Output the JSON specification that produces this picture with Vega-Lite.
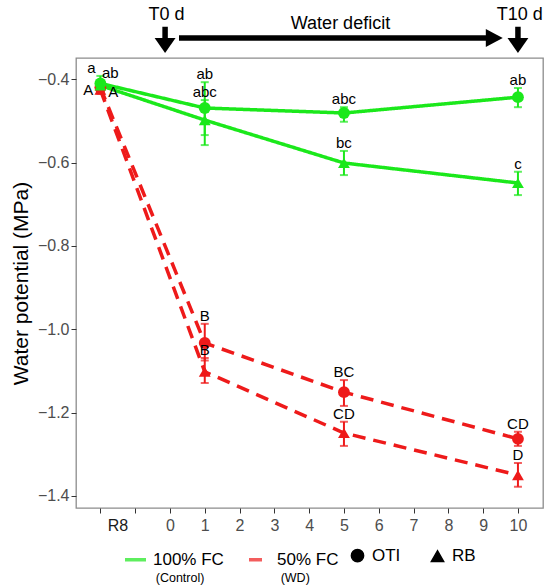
{
  "$schema": "https://vega.github.io/schema/vega-lite/v6.json",
  "width": 467,
  "height": 450,
  "autosize": {"type": "none"},
  "padding": {"left": 76, "top": 58, "right": 7, "bottom": 80},
  "background": "white",
  "config": {
    "font": "Liberation Sans",
    "view": {"stroke": "#8c8c8c", "strokeWidth": 1.3},
    "axis": {
      "grid": false,
      "domain": false,
      "tickColor": "#333333",
      "tickSize": 5,
      "labelColor": "#4d4d4d",
      "labelFontSize": 16,
      "titleFontWeight": "normal",
      "titleColor": "black"
    },
    "legend": {"padding": 0}
  },
  "datasets": {
    "wp": [
      {"day": -2, "trt": "50% FC", "cult": "OTI", "mean": -0.420, "lo": -0.430, "hi": -0.412, "letter": "A"},
      {"day": -2, "trt": "50% FC", "cult": "RB", "mean": -0.425, "lo": -0.435, "hi": -0.415, "letter": "A"},
      {"day": 1, "trt": "50% FC", "cult": "OTI", "mean": -1.033, "lo": -1.075, "hi": -0.987, "letter": "B"},
      {"day": 1, "trt": "50% FC", "cult": "RB", "mean": -1.102, "lo": -1.129, "hi": -1.069, "letter": "B"},
      {"day": 5, "trt": "50% FC", "cult": "OTI", "mean": -1.151, "lo": -1.184, "hi": -1.122, "letter": "BC"},
      {"day": 5, "trt": "50% FC", "cult": "RB", "mean": -1.249, "lo": -1.280, "hi": -1.222, "letter": "CD"},
      {"day": 10, "trt": "50% FC", "cult": "OTI", "mean": -1.263, "lo": -1.280, "hi": -1.246, "letter": "CD"},
      {"day": 10, "trt": "50% FC", "cult": "RB", "mean": -1.350, "lo": -1.378, "hi": -1.321, "letter": "D"},
      {"day": -2, "trt": "100% FC", "cult": "OTI", "mean": -0.410, "lo": -0.428, "hi": -0.392, "letter": "a"},
      {"day": -2, "trt": "100% FC", "cult": "RB", "mean": -0.415, "lo": -0.426, "hi": -0.404, "letter": "ab"},
      {"day": 1, "trt": "100% FC", "cult": "OTI", "mean": -0.469, "lo": -0.534, "hi": -0.407, "letter": "ab"},
      {"day": 1, "trt": "100% FC", "cult": "RB", "mean": -0.498, "lo": -0.558, "hi": -0.450, "letter": "abc"},
      {"day": 5, "trt": "100% FC", "cult": "OTI", "mean": -0.481, "lo": -0.502, "hi": -0.467, "letter": "abc"},
      {"day": 5, "trt": "100% FC", "cult": "RB", "mean": -0.601, "lo": -0.630, "hi": -0.572, "letter": "bc"},
      {"day": 10, "trt": "100% FC", "cult": "OTI", "mean": -0.443, "lo": -0.467, "hi": -0.421, "letter": "ab"},
      {"day": 10, "trt": "100% FC", "cult": "RB", "mean": -0.649, "lo": -0.678, "hi": -0.622, "letter": "c"}
    ],
    "shafts": [
      {"x": -0.14, "x2": -0.14, "y": -0.274, "y2": -0.312},
      {"x": 10.0, "x2": 10.0, "y": -0.274, "y2": -0.312},
      {"x": 0.26, "x2": 9.1, "y": -0.301, "y2": -0.301}
    ],
    "heads": [
      {"x": -0.14, "y": -0.319, "dir": "down"},
      {"x": 10.0, "y": -0.319, "dir": "down"},
      {"x": 9.32, "y": -0.301, "dir": "right"}
    ],
    "notes": [
      {"x": -0.1, "y": -0.246, "txt": "T0 d"},
      {"x": 10.05, "y": -0.246, "txt": "T10 d"},
      {"x": 4.9, "y": -0.267, "txt": "Water deficit"}
    ],
    "subs": [
      {"x": 0.29, "y": -1.598, "txt": "(Control)"},
      {"x": 3.6, "y": -1.598, "txt": "(WD)"}
    ]
  },
  "encoding": {
    "x": {
      "field": "day", "type": "quantitative",
      "scale": {"domain": [-2.7, 10.72], "nice": false, "zero": false},
      "axis": {
        "title": null,
        "values": [-2, -1, 0, 1, 2, 3, 4, 5, 6, 7, 8, 9, 10],
        "tickCount": 14,
        "labelOverlap": false,
        "labelExpr": "datum.value == -2 ? 'R8' : datum.value == -1 ? '' : datum.label",
        "labelOffset": {"condition": {"test": "datum.value == -2", "value": 17}, "value": 0},
        "labelColor": {"condition": {"test": "datum.value == -2", "value": "#1a1a1a"}, "value": "#4d4d4d"},
        "labelPadding": 4
      }
    },
    "y": {
      "field": "mean", "type": "quantitative",
      "scale": {"domain": [-1.429, -0.349], "nice": false, "zero": false},
      "axis": {
        "title": "Water potential (MPa)",
        "titleFontSize": 21,
        "titlePadding": 6,
        "values": [-0.4, -0.6, -0.8, -1.0, -1.2, -1.4],
        "format": ".1f",
        "labelPadding": 2
      }
    }
  },
  "layer": [
    {
      "data": {"name": "wp"},
      "mark": {"type": "line", "strokeWidth": 3.5},
      "encoding": {
        "color": {
          "field": "trt", "type": "nominal",
          "scale": {"domain": ["100% FC", "50% FC"], "range": ["#1be81b", "#ee1a1a"]},
          "legend": {
            "title": null, "orient": "none", "direction": "horizontal",
            "legendX": 47, "legendY": 489,
            "symbolType": "stroke", "symbolSize": 441, "symbolStrokeWidth": 3.5,
            "labelFontSize": 17, "labelColor": "black", "labelOffset": 5, "columnPadding": 18
          }
        },
        "strokeDash": {
          "field": "trt", "type": "nominal",
          "scale": {"domain": ["100% FC", "50% FC"], "range": [[1, 0], [13, 8]]},
          "legend": {
            "title": null, "orient": "none", "direction": "horizontal",
            "legendX": 47, "legendY": 489,
            "symbolType": "stroke", "symbolSize": 441, "symbolStrokeWidth": 3.5,
            "labelFontSize": 17, "labelColor": "black", "labelOffset": 5, "columnPadding": 18
          }
        },
        "detail": {"field": "cult"}
      }
    },
    {
      "data": {"name": "wp"},
      "mark": {"type": "rule", "strokeWidth": 2},
      "encoding": {
        "y": {"field": "lo", "type": "quantitative"},
        "y2": {"field": "hi"},
        "color": {"field": "trt", "type": "nominal"}
      }
    },
    {
      "data": {"name": "wp"},
      "mark": {"type": "tick", "orient": "horizontal", "size": 8, "thickness": 2},
      "encoding": {
        "y": {"field": "lo", "type": "quantitative"},
        "color": {"field": "trt", "type": "nominal"}
      }
    },
    {
      "data": {"name": "wp"},
      "mark": {"type": "tick", "orient": "horizontal", "size": 8, "thickness": 2},
      "encoding": {
        "y": {"field": "hi", "type": "quantitative"},
        "color": {"field": "trt", "type": "nominal"}
      }
    },
    {
      "data": {"name": "wp"},
      "mark": {"type": "point", "filled": true, "opacity": 1, "size": 140},
      "encoding": {
        "color": {"field": "trt", "type": "nominal"},
        "shape": {
          "field": "cult", "type": "nominal",
          "scale": {"domain": ["OTI", "RB"], "range": ["circle", "triangle-up"]},
          "legend": {
            "title": null, "orient": "none", "direction": "horizontal",
            "legendX": 273, "legendY": 489,
            "symbolFillColor": "black", "symbolStrokeColor": "black", "symbolSize": 150,
            "labelFontSize": 17, "labelColor": "black", "labelOffset": 6, "columnPadding": 27
          }
        }
      }
    },
    {
      "data": {"name": "wp"},
      "mark": {
        "type": "text", "fontSize": 15, "color": "black", "baseline": "middle",
        "dy": {"expr": "datum.day == -2 && datum.trt == '50% FC' ? 6 : -8"},
        "dx": {"expr": "datum.day == -2 ? (datum.cult == 'OTI' ? (datum.trt == '100% FC' ? -9 : -12) : (datum.trt == '100% FC' ? 10 : 13)) : 0"}
      },
      "encoding": {
        "y": {"field": "hi", "type": "quantitative"},
        "text": {"field": "letter"}
      }
    },
    {
      "data": {"name": "shafts"},
      "mark": {"type": "rule", "strokeWidth": 5.5, "color": "black"},
      "encoding": {
        "x": {"field": "x", "type": "quantitative"},
        "x2": {"field": "x2"},
        "y": {"field": "y", "type": "quantitative"},
        "y2": {"field": "y2"}
      }
    },
    {
      "data": {"name": "heads"},
      "transform": [{"filter": "datum.dir == 'down'"}],
      "mark": {"type": "point", "filled": true, "opacity": 1, "color": "black", "size": 484, "shape": "M-0.95,-0.68L0.95,-0.68L0,0.68Z"},
      "encoding": {
        "x": {"field": "x", "type": "quantitative"},
        "y": {"field": "y", "type": "quantitative"}
      }
    },
    {
      "data": {"name": "heads"},
      "transform": [{"filter": "datum.dir == 'right'"}],
      "mark": {"type": "point", "filled": true, "opacity": 1, "color": "black", "size": 484, "shape": "M-0.77,-0.82L0.77,0L-0.77,0.82Z"},
      "encoding": {
        "x": {"field": "x", "type": "quantitative"},
        "y": {"field": "y", "type": "quantitative"}
      }
    },
    {
      "data": {"name": "notes"},
      "mark": {"type": "text", "fontSize": 18, "color": "black", "baseline": "middle"},
      "encoding": {
        "x": {"field": "x", "type": "quantitative"},
        "y": {"field": "y", "type": "quantitative"},
        "text": {"field": "txt"}
      }
    },
    {
      "data": {"name": "subs"},
      "mark": {"type": "text", "fontSize": 12.5, "color": "black", "baseline": "middle"},
      "encoding": {
        "x": {"field": "x", "type": "quantitative"},
        "y": {"field": "y", "type": "quantitative"},
        "text": {"field": "txt"}
      }
    }
  ]
}
